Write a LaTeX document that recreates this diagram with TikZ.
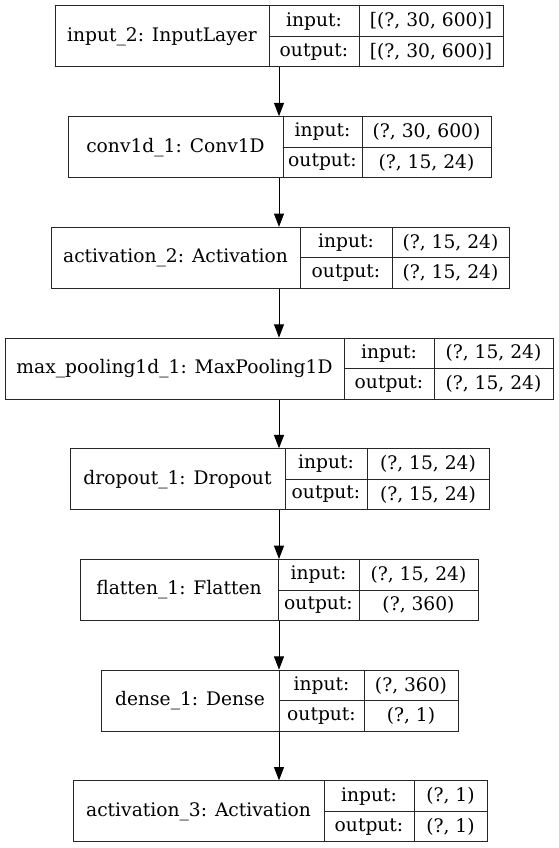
\documentclass[tikz,border=0pt]{standalone}
\usepackage{fontspec}
\setmainfont{DejaVu Serif}
\usetikzlibrary{calc,arrows.meta}

\begin{document}
\begin{tikzpicture}[
            x=0.75pt, y=-0.75pt,
            line width=0.75pt,
            layerbox/.style={
              draw=black!85,
              inner sep=0pt,
              minimum height=45.75pt
            },
            lbl/.style={
              font=\fontsize{14}{16}\selectfont,
              inner sep=0pt
            },
            arr/.style={
              -{Triangle[length=10pt,width=7.5pt]},
              black
            }
        ]
\useasboundingbox (0,0) rectangle (559,848);
\def\h{61}
\def\gap{110.7}
\foreach \i/\lx/\da/\db/\rx/\n/\inp/\outp in {
    {1/55/269/359/503/{input\_2: InputLayer}/{[(?, 30, 600)]}/{[(?, 30, 600)]}},
    {2/68/283/362/491/{conv1d\_1: Conv1D}/{(?, 30, 600)}/{(?, 15, 24)}},
    {3/51/300/392/509/{activation\_2: Activation}/{(?, 15, 24)}/{(?, 15, 24)}},
    {4/5/344/434/553/{max\_pooling1d\_1: MaxPooling1D}/{(?, 15, 24)}/{(?, 15, 24)}},
    {5/70/285/367/489/{dropout\_1: Dropout}/{(?, 15, 24)}/{(?, 15, 24)}},
    {6/80/278/359/478/{flatten\_1: Flatten}/{(?, 15, 24)}/{(?, 360)}},
    {7/101/279/364/458/{dense\_1: Dense}/{(?, 360)}/{(?, 1)}},
    {8/73/324/414/487/{activation\_3: Activation}/{(?, 1)}/{(?, 1)}}%
}{
    \pgfmathsetmacro\ty{6 + (\i-1)*\gap}
    \node[layerbox, minimum width={(\rx-\lx)*0.75pt}] (box\i) at ({(\lx+\rx)/2}, {\ty+\h/2}) {};
    \draw[black!85] (\da, \ty) -- (\da, {\ty+\h});
    \draw[black!85] (\db, \ty) -- (\db, {\ty+\h});
    \draw[black!85] (\da, {\ty+\h/2}) -- (\rx, {\ty+\h/2});
    \node[lbl] (name\i) at ({(\lx+\da)/2}, {\ty+\h/2}) {\n};
    \node[lbl] (inlbl\i) at ({(\da+\db)/2}, {\ty+\h/4}) {input:};
    \node[lbl] (outlbl\i) at ({(\da+\db)/2}, {\ty+3*\h/4}) {output:};
    \node[lbl] (inval\i) at ({(\db+\rx)/2}, {\ty+\h/4}) {\inp};
    \node[lbl] (outval\i) at ({(\db+\rx)/2}, {\ty+3*\h/4}) {\outp};
}

% edges run straight down the common centre line
\foreach \i [evaluate=\i as \j using int(\i+1)] in {1,...,7}
    \draw[arr] (box4.south |- box\i.south) -- (box4.south |- box\j.north);

\end{tikzpicture}
\end{document}
